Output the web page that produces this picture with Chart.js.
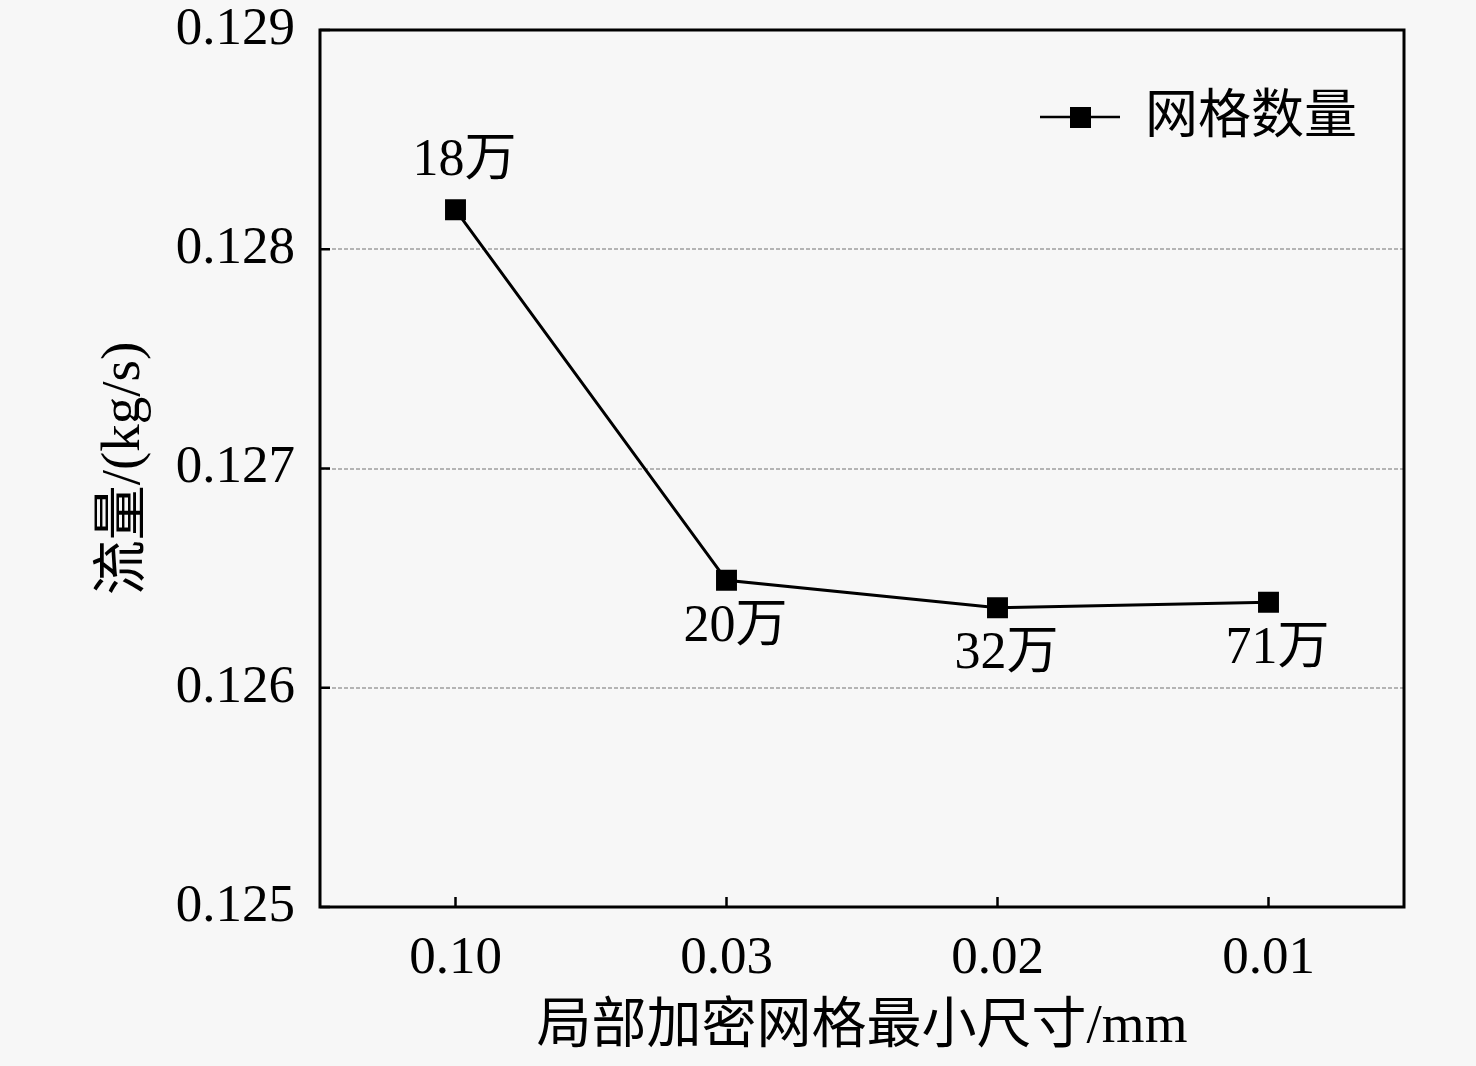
<!DOCTYPE html>
<html>
<head>
<meta charset="utf-8">
<script src="https://cdn.jsdelivr.net/npm/chart.js@4.4.1/dist/chart.umd.min.js"></script>
<style>
  html, body { margin: 0; padding: 0; background: #f7f7f7; }
  #wrap { width: 1476px; height: 1066px; position: relative; }
</style>
</head>
<body>
<div id="wrap"><canvas id="c"></canvas></div>
<script>
const categories = ['0.10', '0.03', '0.02', '0.01'];
const flowValues = [0.12818, 0.12649, 0.126365, 0.12639];
const meshCounts = ['18万', '20万', '32万', '71万'];
const seriesName = '网格数量';
const xTitle = '局部加密网格最小尺寸/mm';
const yTitle = '流量/(kg/s)';
const yMin = 0.125, yMax = 0.129, yStep = 0.001;

const FONT = '"Liberation Serif", "Times New Roman", "Noto Sans CJK SC", serif';

const framePlugin = {
  id: 'frame',
  afterDraw(chart) {
    const { ctx, chartArea: a, scales } = chart;
    ctx.save();
    ctx.strokeStyle = '#000';
    ctx.lineWidth = 3;
    ctx.strokeRect(a.left, a.top, a.right - a.left, a.bottom - a.top);
    // inward ticks
    ctx.lineWidth = 2.5;
    scales.y.ticks.forEach(t => {
      const y = scales.y.getPixelForValue(t.value);
      ctx.beginPath(); ctx.moveTo(a.left, y); ctx.lineTo(a.left + 10, y); ctx.stroke();
    });
    categories.forEach((c, i) => {
      const x = scales.x.getPixelForValue(i);
      ctx.beginPath(); ctx.moveTo(x, a.bottom); ctx.lineTo(x, a.bottom - 10); ctx.stroke();
    });
    // data labels
    const meta = chart.getDatasetMeta(0);
    ctx.fillStyle = '#000';
    ctx.font = '52px ' + FONT;
    ctx.textAlign = 'center';
    ctx.textBaseline = 'middle';
    meta.data.forEach((pt, i) => {
      const dy = i === 0 ? -48 : 47;
      ctx.fillText(meshCounts[i], pt.x + 9, pt.y + dy);
    });
    // legend
    const lx = a.right - 364, ly = a.top + 87;
    ctx.lineWidth = 2.5;
    ctx.beginPath(); ctx.moveTo(lx, ly); ctx.lineTo(lx + 80, ly); ctx.stroke();
    ctx.fillRect(lx + 30, ly - 10, 21, 21);
    ctx.textAlign = 'left';
    ctx.font = '53px ' + FONT;
    ctx.fillText(chart.data.datasets[0].label, lx + 105, ly + 2);
    ctx.restore();
  }
};

new Chart(document.getElementById('c'), {
  type: 'line',
  data: {
    labels: categories,
    datasets: [{
      label: seriesName,
      data: flowValues,
      borderColor: '#000',
      backgroundColor: '#000',
      borderWidth: 3,
      pointStyle: 'rect',
      pointRadius: 14.8,
      pointBorderWidth: 0,
      tension: 0
    }]
  },
  options: {
    responsive: true,
    maintainAspectRatio: false,
    devicePixelRatio: 1,
    animation: false,
    layout: { padding: { left: 0, right: 72, top: 0, bottom: 0 } },
    plugins: { legend: { display: false }, tooltip: { enabled: false } },
    scales: {
      x: {
        offset: true,
        grid: { display: false, drawTicks: false },
        border: { display: false },
        ticks: { color: '#000', padding: 20, font: { family: FONT, size: 53 } },
        title: { display: true, text: xTitle, color: '#000', font: { family: FONT, size: 55 }, padding: { top: 0, bottom: 5 } },
        afterFit(s) { s.height = 159; s.paddingLeft = 0; s.paddingRight = 0; }
      },
      y: {
        min: yMin, max: yMax,
        grid: {
          drawTicks: false,
          color: ctx => (ctx.tick && (ctx.tick.value <= yMin + 1e-9 || ctx.tick.value >= yMax - 1e-9)) ? 'rgba(0,0,0,0)' : '#b4b4b4',
          lineWidth: 2
        },
        border: { display: false, dash: [4, 2] },
        ticks: {
          stepSize: yStep, color: '#000', padding: 25,
          font: { family: FONT, size: 53 },
          callback: v => Number(v).toFixed(3)
        },
        title: { display: true, text: yTitle, color: '#000', font: { family: FONT, size: 55 }, padding: { top: 92, bottom: 0 } },
        afterFit(s) { s.width = 320; s.paddingTop = 30; s.paddingBottom = 0; }
      }
    }
  },
  plugins: [framePlugin]
});
</script>
</body>
</html>
